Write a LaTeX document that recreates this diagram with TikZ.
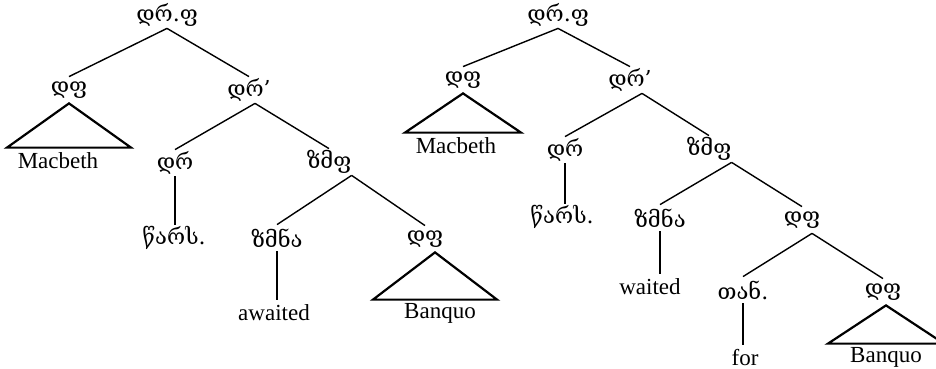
\documentclass[tikz,border=0pt]{standalone}
\usepackage{fontspec}
\setmainfont{Liberation Serif}
\newfontfamily\geofont{DejaVu Serif}

\begin{document}
\begin{tikzpicture}[
  x=0.5pt, y=-0.5pt,
  cat/.style={inner sep=0pt, minimum height=13pt, font=\geofont\fontsize{11}{13}\selectfont},
  word/.style={inner sep=0pt, minimum height=13pt, font=\fontsize{11.5}{13}\selectfont},
  branch/.style={line width=0.7pt},
  roofline/.style={line width=1.1pt, line join=miter}
]
  \useasboundingbox (0,0) rectangle (936,369);

  % left tree
  \node[cat] (r1) at (167,15) {დრ.ფ};
  \node[cat] (np1) at (69,90) {დფ};
  \node[cat] (dbar1) at (249,90) {დრ’};
  \node[word] (mac1) at (58,161) {Macbeth};
  \node[cat] (d1) at (175,163) {დრ};
  \node[cat] (vp1) at (329,162) {ზმფ};
  \node[cat] (adv1) at (174,238) {წარს.};
  \node[cat] (v1) at (277,238) {ზმნა};
  \node[cat] (np2) at (425,239) {დფ};
  \node[word] (aw) at (274,313) {awaited};
  \node[word] (ban1) at (440,313) {Banquo};

  \draw[branch] (r1.south) -- (np1.north);
  \draw[branch] (r1.south) -- (dbar1.north);
  \draw[branch] ([xshift=3pt]dbar1.south) -- (d1.north);
  \draw[branch] ([xshift=3pt]dbar1.south) -- (vp1.north);
  \draw[branch] (d1.south) -- (d1.south |- adv1.north);
  \draw[branch] (vp1.south east) -- (v1.north);
  \draw[branch] (vp1.south east) -- (np2.north);
  \draw[branch] (v1.south) -- (v1.south |- aw.north);
  \draw[roofline] (np1.south) -- ([xshift=-31pt]np1.south |- mac1.north)
    -- ([xshift=31pt]np1.south |- mac1.north) -- cycle;
  \draw[roofline] ([xshift=5pt]np2.south) -- ([xshift=-26pt]np2.south |- ban1.north)
    -- ([xshift=36pt]np2.south |- ban1.north) -- cycle;

  % right tree
  \node[cat] (r2) at (558,15) {დრ.ფ};
  \node[cat] (np3) at (463,80) {დფ};
  \node[cat] (dbar2) at (630,80) {დრ’};
  \node[word] (mac2) at (456,146) {Macbeth};
  \node[cat] (d2) at (565,150) {დრ};
  \node[cat] (vp2) at (709,149) {ზმფ};
  \node[cat] (adv2) at (562,217) {წარს.};
  \node[cat] (v2) at (660,218) {ზმნა};
  \node[cat] (np4) at (802,220) {დფ};
  \node[word] (wt) at (650,287) {waited};
  \node[cat] (p) at (743,290) {თან.};
  \node[cat] (np5) at (883,292) {დფ};
  \node[word] (fr) at (745,358) {for};
  \node[word] (ban2) at (886,357) {Banquo};

  \draw[branch] (r2.south) -- (np3.north);
  \draw[branch] (r2.south) -- (dbar2.north);
  \draw[branch] ([xshift=6pt]dbar2.south) -- (d2.north);
  \draw[branch] ([xshift=6pt]dbar2.south) -- (vp2.north);
  \draw[branch] (d2.south) -- (d2.south |- adv2.north);
  \draw[branch] (vp2.south east) -- (v2.north);
  \draw[branch] (vp2.south east) -- (np4.north);
  \draw[branch] (v2.south) -- (v2.south |- wt.north);
  \draw[branch] ([xshift=5pt]np4.south) -- (p.north);
  \draw[branch] ([xshift=5pt]np4.south) -- (np5.north);
  \draw[branch] (p.south) -- (p.south |- fr.north);
  \draw[roofline] (np3.south) -- ([xshift=-29pt]np3.south |- mac2.north)
    -- ([xshift=29pt]np3.south |- mac2.north) -- cycle;
  \draw[roofline] ([xshift=1.5pt]np5.south) -- ([xshift=-27.5pt]np5.south |- ban2.north)
    -- ([xshift=30.5pt]np5.south |- ban2.north) -- cycle;
\end{tikzpicture}
\end{document}
